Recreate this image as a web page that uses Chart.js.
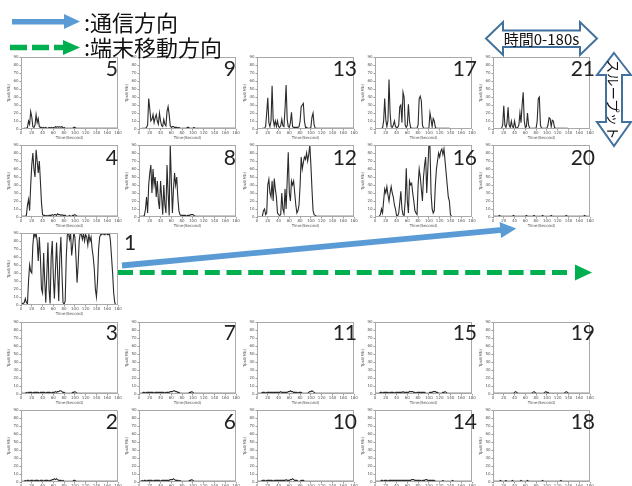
<!DOCTYPE html>
<html>
<head>
<meta charset="utf-8">
<script src="https://cdn.jsdelivr.net/npm/chart.js@4/dist/chart.umd.min.js"></script>
<style>
  html, body { margin: 0; padding: 0; background: #fff; }
  #stage { position: relative; width: 632px; height: 486px; overflow: hidden; background: #fff; }
  #stage canvas { position: absolute; }
  #deco { position: absolute; left: 0; top: 0; }
</style>
</head>
<body>
<div id="stage"></div>
<script>
// Throughput per terminal position (Mb), sampled every 2 s from 0 to 180 s.
const timeTicks = [0, 20, 40, 60, 80, 100, 120, 140, 160, 180];
const tputTicks = [0, 10, 20, 30, 40, 50, 60, 70, 80, 90];
const seconds = Array.from({ length: 91 }, (_, i) => i * 2);

const tput1 = [
  2, 2, 2, 3, 8, 3, 2, 30, 50, 42,
  40, 75, 90, 85, 90, 80, 55, 85, 60, 20,
  15, 65, 30, 3, 40, 78, 20, 2, 60, 80,
  35, 8, 45, 78, 40, 5, 60, 85, 40, 3,
  1, 5, 60, 88, 90, 82, 90, 62, 75, 90,
  85, 60, 28, 50, 80, 90, 88, 82, 90, 80,
  88, 85, 75, 88, 80, 85, 70, 60, 45, 20,
  10, 30, 70, 85, 88, 88, 90, 88, 88, 90,
  88, 88, 90, 80, 60, 40, 15, 3, 0, 0,
  0];
const tput2 = [
  1, 1, 1, 1, 2, 1, 2, 2, 1, 2,
  2, 2, 1, 2, 2, 2, 2, 1, 2, 2,
  2, 1, 2, 2, 2, 2, 1, 2, 2, 3,
  3, 4, 3, 4, 3, 2, 2, 2, 1, 2,
  1, 1, 1, 1, 1, 1, 1, 1, 1, 2,
  2, 1, 1, 1, 1, 1, 1, 1, 1, 1,
  1, 1, 1, 1, 1, 1, 1, 1, 1, 1,
  1, 1, 1, 1, 1, 1, 1, 1, 1, 1,
  1, 1, 1, 1, 1, 1, 1, 1, 1, 1,
  1];
const tput3 = [
  1, 1, 1, 1, 1, 2, 1, 2, 2, 2,
  2, 1, 2, 2, 2, 2, 2, 1, 2, 2,
  2, 2, 2, 1, 2, 2, 2, 2, 1, 2,
  2, 2, 3, 2, 3, 3, 4, 4, 3, 2,
  2, 1, 1, 1, 1, 1, 1, 1, 2, 2,
  3, 2, 1, 1, 1, 1, 1, 1, 1, 1,
  1, 1, 1, 1, 1, 1, 1, 1, 1, 1,
  1, 1, 1, 1, 1, 1, 1, 1, 1, 1,
  1, 1, 1, 1, 1, 1, 1, 1, 1, 1,
  1];
const tput4 = [
  1, 1, 1, 1, 1, 2, 15, 22, 8, 40,
  65, 80, 60, 50, 84, 70, 55, 70, 45, 18,
  3, 2, 2, 1, 2, 1, 2, 2, 2, 3,
  2, 3, 3, 2, 4, 3, 3, 2, 3, 2,
  2, 2, 1, 1, 1, 2, 1, 1, 2, 2,
  3, 2, 1, 1, 1, 1, 1, 1, 1, 1,
  1, 1, 1, 1, 1, 1, 1, 1, 1, 1,
  1, 1, 1, 1, 1, 1, 1, 1, 1, 1,
  1, 1, 1, 1, 1, 1, 1, 1, 1, 1,
  1];
const tput5 = [
  0, 0, 0, 1, 1, 1, 2, 10, 6, 22,
  15, 3, 2, 5, 18, 8, 13, 3, 2, 2,
  1, 2, 1, 2, 1, 1, 2, 1, 2, 1,
  2, 1, 3, 2, 3, 2, 3, 2, 3, 1,
  2, 1, 1, 1, 1, 1, 1, 1, 1, 2,
  2, 1, 1, 1, 1, 1, 1, 1, 1, 1,
  1, 1, 1, 1, 1, 1, 1, 1, 1, 1,
  1, 1, 1, 1, 1, 1, 1, 1, 1, 1,
  1, 1, 1, 1, 1, 1, 1, 1, 1, 1,
  1];
const tput6 = [
  1, 1, 1, 2, 1, 2, 2, 1, 2, 2,
  2, 2, 2, 1, 2, 2, 2, 2, 2, 2,
  1, 2, 2, 2, 2, 2, 2, 2, 2, 3,
  3, 3, 4, 3, 2, 2, 2, 1, 2, 1,
  1, 1, 1, 1, 1, 1, 1, 2, 2, 3,
  2, 1, 1, 1, 1, 1, 1, 1, 1, 1,
  1, 1, 1, 1, 1, 1, 1, 1, 1, 1,
  1, 1, 1, 1, 1, 1, 1, 1, 1, 1,
  1, 1, 1, 1, 1, 1, 1, 1, 1, 1,
  1];
const tput7 = [
  1, 1, 1, 1, 2, 2, 1, 2, 2, 2,
  2, 2, 2, 2, 1, 2, 2, 2, 2, 2,
  2, 2, 2, 2, 1, 2, 2, 2, 2, 3,
  3, 3, 4, 4, 3, 3, 2, 2, 1, 1,
  1, 1, 1, 1, 1, 1, 1, 2, 2, 3,
  2, 1, 1, 1, 1, 1, 1, 1, 1, 1,
  1, 1, 1, 1, 1, 1, 1, 1, 1, 1,
  1, 1, 1, 1, 1, 1, 1, 1, 1, 1,
  1, 1, 1, 1, 1, 1, 1, 1, 1, 1,
  1];
const tput8 = [
  0, 1, 1, 1, 1, 2, 10, 25, 5, 40,
  55, 65, 30, 60, 40, 50, 25, 45, 20, 10,
  45, 25, 3, 40, 15, 5, 65, 30, 2, 90,
  45, 5, 35, 55, 40, 50, 25, 8, 3, 2,
  2, 2, 2, 2, 1, 2, 2, 2, 3, 3,
  3, 2, 1, 1, 1, 1, 1, 1, 1, 1,
  1, 1, 1, 1, 1, 1, 1, 1, 1, 1,
  1, 1, 1, 1, 1, 1, 1, 1, 1, 1,
  1, 1, 1, 1, 1, 1, 1, 1, 1, 1,
  1];
const tput9 = [
  0, 0, 0, 1, 1, 1, 1, 2, 5, 38,
  25, 10, 12, 18, 8, 14, 18, 10, 6, 20,
  10, 4, 3, 12, 6, 4, 22, 28, 18, 4,
  2, 3, 3, 2, 2, 2, 1, 2, 1, 1,
  1, 1, 1, 1, 1, 2, 2, 1, 1, 1,
  1, 2, 1, 1, 1, 1, 1, 1, 1, 1,
  1, 1, 1, 1, 1, 1, 1, 1, 1, 1,
  1, 1, 1, 1, 1, 1, 1, 1, 1, 1,
  1, 1, 1, 1, 1, 1, 1, 1, 1, 1,
  1];
const tput10 = [
  1, 1, 1, 1, 1, 2, 2, 2, 1, 2,
  2, 2, 2, 2, 2, 1, 2, 2, 2, 2,
  2, 2, 2, 2, 2, 2, 2, 3, 2, 2,
  2, 3, 3, 4, 3, 2, 2, 2, 1, 1,
  1, 2, 2, 2, 1, 1, 1, 1, 1, 1,
  1, 1, 1, 1, 1, 1, 1, 1, 1, 1,
  1, 1, 1, 1, 1, 1, 1, 1, 1, 1,
  1, 1, 1, 1, 1, 1, 1, 1, 1, 1,
  1, 1, 1, 1, 1, 1, 1, 1, 1, 1,
  1];
const tput11 = [
  1, 1, 1, 1, 1, 2, 2, 2, 1, 2,
  2, 2, 2, 2, 2, 2, 2, 2, 2, 2,
  2, 2, 3, 2, 2, 2, 2, 2, 2, 3,
  3, 4, 3, 3, 2, 2, 2, 2, 1, 2,
  2, 2, 1, 1, 1, 1, 1, 1, 2, 3,
  3, 4, 3, 2, 1, 1, 1, 1, 1, 1,
  1, 1, 1, 1, 1, 1, 1, 1, 1, 1,
  1, 1, 1, 1, 1, 1, 1, 1, 1, 1,
  1, 1, 1, 1, 1, 1, 1, 1, 1, 1,
  1];
const tput12 = [
  0, 0, 0, 0, 0, 1, 8, 10, 3, 5,
  40, 47, 30, 25, 45, 20, 48, 35, 25, 5,
  3, 2, 3, 30, 10, 5, 35, 10, 45, 81,
  30, 20, 45, 40, 45, 30, 15, 5, 8, 15,
  40, 75, 60, 68, 75, 72, 80, 70, 78, 90,
  65, 35, 8, 3, 2, 1, 1, 1, 1, 1,
  1, 1, 1, 1, 1, 1, 1, 1, 1, 1,
  1, 1, 1, 1, 1, 1, 1, 1, 1, 1,
  1, 1, 1, 1, 1, 1, 1, 1, 1, 1,
  1];
const tput13 = [
  0, 0, 0, 0, 0, 1, 1, 1, 3, 20,
  39, 8, 3, 10, 54, 12, 4, 10, 3, 10,
  3, 2, 4, 12, 4, 3, 25, 55, 12, 3,
  2, 8, 21, 3, 2, 2, 2, 2, 2, 3,
  10, 28, 30, 32, 10, 2, 2, 1, 1, 1,
  2, 15, 20, 5, 1, 1, 1, 1, 1, 1,
  1, 1, 1, 1, 1, 1, 1, 1, 1, 1,
  1, 1, 1, 1, 1, 1, 1, 1, 1, 1,
  1, 1, 1, 1, 1, 1, 1, 1, 1, 1,
  1];
const tput14 = [
  1, 1, 1, 1, 1, 1, 2, 2, 1, 2,
  2, 2, 1, 2, 2, 2, 2, 2, 2, 2,
  2, 2, 2, 2, 2, 2, 2, 2, 2, 2,
  2, 2, 2, 2, 3, 3, 3, 2, 2, 2,
  2, 2, 2, 1, 2, 2, 2, 3, 3, 2,
  2, 2, 2, 2, 2, 2, 1, 1, 1, 1,
  1, 1, 1, 2, 1, 1, 1, 1, 1, 1,
  1, 1, 2, 1, 1, 1, 1, 1, 1, 1,
  1, 1, 1, 1, 1, 1, 1, 1, 1, 1,
  1];
const tput15 = [
  1, 1, 1, 1, 1, 2, 2, 1, 2, 2,
  2, 2, 2, 1, 2, 2, 2, 2, 1, 2,
  2, 2, 2, 2, 2, 2, 3, 2, 2, 2,
  2, 2, 3, 3, 3, 3, 2, 2, 1, 2,
  2, 2, 2, 2, 2, 2, 2, 1, 1, 1,
  1, 2, 2, 2, 3, 3, 3, 2, 2, 1,
  1, 1, 1, 2, 2, 3, 2, 1, 1, 1,
  1, 1, 1, 1, 1, 1, 1, 1, 1, 1,
  1, 1, 1, 1, 1, 1, 1, 1, 1, 1,
  1];
const tput16 = [
  0, 0, 0, 0, 1, 3, 10, 5, 20, 35,
  30, 38, 28, 20, 30, 38, 30, 25, 15, 10,
  2, 1, 5, 18, 32, 10, 3, 2, 20, 61,
  20, 5, 45, 40, 42, 30, 20, 8, 5, 3,
  40, 60, 50, 35, 20, 50, 65, 75, 30, 60,
  90, 88, 30, 10, 5, 8, 40, 60, 70, 80,
  75, 82, 85, 78, 85, 70, 55, 40, 25, 20,
  3, 1, 0, 0, 0, 0, 0, 0, 0, 0,
  0, 0, 0, 0, 0, 0, 0, 0, 0, 0,
  0];
const tput17 = [
  0, 0, 0, 0, 0, 0, 1, 1, 10, 38,
  12, 3, 10, 62, 20, 3, 2, 5, 10, 3,
  2, 2, 5, 28, 30, 8, 46, 40, 5, 2,
  5, 31, 10, 2, 1, 1, 1, 1, 1, 1,
  5, 38, 41, 35, 5, 1, 1, 1, 1, 1,
  1, 20, 12, 3, 13, 10, 2, 1, 1, 1,
  1, 1, 1, 1, 1, 1, 1, 1, 1, 1,
  0, 0, 0, 0, 0, 0, 0, 0, 0, 0,
  0, 0, 0, 0, 0, 0, 0, 0, 0, 0,
  0];
const tput18 = [
  1, 1, 1, 1, 1, 1, 1, 2, 1, 1,
  1, 1, 2, 1, 1, 1, 1, 1, 2, 1,
  1, 1, 1, 1, 1, 1, 2, 1, 1, 1,
  1, 1, 2, 1, 1, 1, 1, 1, 1, 1,
  1, 1, 1, 1, 1, 1, 2, 1, 1, 1,
  1, 1, 1, 1, 1, 1, 1, 1, 1, 1,
  1, 1, 1, 2, 1, 1, 1, 1, 1, 1,
  1, 1, 1, 1, 1, 1, 1, 1, 1, 1,
  1, 1, 1, 1, 1, 1, 1, 1, 1, 1,
  1];
const tput19 = [
  1, 1, 1, 1, 1, 1, 1, 1, 1, 1,
  1, 1, 1, 1, 1, 1, 1, 1, 1, 1,
  2, 3, 2, 1, 1, 1, 1, 1, 1, 1,
  1, 1, 1, 1, 1, 1, 1, 2, 3, 2,
  1, 1, 1, 1, 1, 1, 1, 1, 2, 3,
  2, 2, 1, 1, 1, 1, 1, 1, 1, 1,
  1, 1, 1, 1, 1, 1, 1, 2, 3, 2,
  1, 1, 1, 1, 1, 1, 1, 1, 1, 1,
  1, 1, 1, 1, 1, 1, 1, 1, 1, 1,
  1];
const tput20 = [
  1, 1, 1, 1, 1, 1, 2, 1, 1, 1,
  1, 1, 1, 1, 1, 1, 1, 1, 1, 2,
  1, 1, 1, 1, 1, 1, 1, 1, 1, 1,
  1, 2, 1, 1, 1, 1, 1, 1, 2, 1,
  1, 1, 1, 1, 1, 1, 2, 1, 1, 1,
  1, 1, 1, 1, 2, 1, 1, 1, 1, 1,
  1, 1, 1, 1, 1, 1, 1, 1, 2, 1,
  1, 1, 1, 1, 1, 1, 1, 1, 1, 1,
  1, 1, 1, 1, 1, 2, 1, 1, 1, 1,
  1];
const tput21 = [
  0, 0, 0, 0, 0, 0, 0, 0, 1, 5,
  29, 5, 2, 8, 27, 5, 2, 10, 3, 2,
  10, 2, 1, 2, 5, 20, 8, 30, 46, 10,
  2, 3, 20, 5, 1, 1, 1, 1, 1, 1,
  1, 10, 38, 40, 5, 1, 1, 1, 1, 1,
  1, 5, 14, 13, 3, 11, 10, 2, 1, 1,
  1, 1, 1, 1, 1, 1, 1, 1, 1, 1,
  0, 0, 0, 0, 0, 0, 0, 0, 0, 0,
  0, 0, 0, 0, 0, 0, 0, 0, 0, 0,
  0];

// Terminal number, grid column, grid row, series
const panels = [
  [5, 0, 0, tput5], [9, 1, 0, tput9], [13, 2, 0, tput13], [17, 3, 0, tput17], [21, 4, 0, tput21],
  [4, 0, 1, tput4], [8, 1, 1, tput8], [12, 2, 1, tput12], [16, 3, 1, tput16], [20, 4, 1, tput20],
  [1, 0, 2, tput1],
  [3, 0, 3, tput3], [7, 1, 3, tput7], [11, 2, 3, tput11], [15, 3, 3, tput15], [19, 4, 3, tput19],
  [2, 0, 4, tput2], [6, 1, 4, tput6], [10, 2, 4, tput10], [14, 3, 4, tput14], [18, 4, 4, tput18]
];

// Panel geometry (plot-area boxes in page pixels)
const colLeft = [21, 139, 257, 375, 493];
const rowTop = [57, 145, 233, 322, 410];
const PLOT_W = 97, PLOT_H = 72;
const AXIS_W = 19, AXIS_H = 12, PAD_TOP = 4, PAD_RIGHT = 5;

const stage = document.getElementById('stage');

// Closed frame around each plot area
const framePlugin = {
  id: 'frame',
  afterDraw(chart) {
    const { ctx, chartArea: a } = chart;
    ctx.save();
    ctx.strokeStyle = '#a9a9a9';
    ctx.lineWidth = 1;
    ctx.strokeRect(Math.round(a.left) + 0.5, Math.round(a.top) + 0.5,
                   Math.round(a.width) - 1, Math.round(a.height) - 1);
    ctx.restore();
  }
};

const tinyFont = { family: 'DejaVu Sans', size: 4 };

function drawPanel(col, row, series) {
  const canvas = document.createElement('canvas');
  const w = AXIS_W + PLOT_W + PAD_RIGHT;
  const h = PAD_TOP + PLOT_H + AXIS_H;
  canvas.width = w;
  canvas.height = h;
  canvas.style.width = w + 'px';
  canvas.style.height = h + 'px';
  canvas.style.left = (colLeft[col] - AXIS_W) + 'px';
  canvas.style.top = (rowTop[row] - PAD_TOP) + 'px';
  stage.appendChild(canvas);

  new Chart(canvas, {
    type: 'line',
    data: {
      datasets: [{
        data: series.map((v, i) => ({ x: seconds[i], y: v })),
        borderColor: '#2b2b2b',
        borderWidth: 1.1,
        pointRadius: 0,
        tension: 0,
        fill: false
      }]
    },
    options: {
      responsive: false,
      animation: false,
      devicePixelRatio: 1,
      events: [],
      layout: { padding: { top: PAD_TOP, right: PAD_RIGHT, left: 0, bottom: 0 } },
      plugins: { legend: { display: false }, tooltip: { enabled: false } },
      scales: {
        x: {
          type: 'linear', min: 0, max: 180,
          afterBuildTicks: s => { s.ticks = timeTicks.map(v => ({ value: v })); },
          afterFit: s => { s.height = AXIS_H; },
          ticks: { font: tinyFont, color: '#555', padding: 0.5, maxRotation: 0, autoSkip: false },
          grid: { drawOnChartArea: false, tickLength: 1.5, color: '#999' },
          border: { display: false },
          title: { display: true, text: 'Time(Second)', font: tinyFont, color: '#555', padding: { top: 0, bottom: 0.5 } }
        },
        y: {
          min: 0, max: 90,
          afterBuildTicks: s => { s.ticks = tputTicks.map(v => ({ value: v })); },
          afterFit: s => { s.width = AXIS_W; },
          ticks: { font: tinyFont, color: '#555', padding: 1, autoSkip: false },
          grid: { drawOnChartArea: false, tickLength: 1.5, color: '#999' },
          border: { display: false },
          title: { display: true, text: 'Tput(Mb)', font: tinyFont, color: '#555', padding: { top: 5, bottom: 0 } }
        }
      }
    },
    plugins: [framePlugin]
  });
}

panels.forEach(([, col, row, series]) => drawPanel(col, row, series));

// Overlay: terminal numbers, direction arrows, legend and axis hints
const numRight = [118, 236, 357, 477, 595];
const numBase = [76, 165, 250, 340, 429];
const SVG = 'http://www.w3.org/2000/svg';
const svg = document.createElementNS(SVG, 'svg');
svg.setAttribute('id', 'deco');
svg.setAttribute('width', 632);
svg.setAttribute('height', 486);
stage.appendChild(svg);

function add(tag, attrs, text) {
  const el = document.createElementNS(SVG, tag);
  for (const k in attrs) el.setAttribute(k, attrs[k]);
  if (text !== undefined) el.textContent = text;
  svg.appendChild(el);
  return el;
}

panels.forEach(([num, col, row]) => {
  if (row === 2) {
    add('text', { x: 124, y: numBase[row], 'font-family': 'Lato', 'font-size': 21, fill: '#222' }, String(num));
  } else {
    add('text', { x: numRight[col], y: numBase[row], 'text-anchor': 'end', 'font-family': 'Lato', 'font-size': 21, fill: '#222' }, String(num));
  }
});

const BLUE = '#5b9bd5', GREEN = '#00b050', OUTLINE = '#41719c';

// Legend: communication direction (solid) and terminal movement direction (dashed)
add('rect', { x: 12, y: 19, width: 53, height: 5.5, fill: BLUE });
add('polygon', { points: '64,14 80,21.5 64,29', fill: BLUE });
add('text', { x: 84, y: 30.5, 'font-family': 'Noto Sans CJK JP', 'font-size': 22, fill: '#111' }, ':通信方向');

add('line', { x1: 10, y1: 47.5, x2: 63, y2: 47.5, stroke: GREEN, 'stroke-width': 5.5, 'stroke-dasharray': '17 5' });
add('polygon', { points: '63,40 80,47.5 63,55', fill: GREEN });
add('text', { x: 84, y: 55.5, 'font-family': 'Noto Sans CJK JP', 'font-size': 22, fill: '#111' }, ':端末移動方向');

// Large arrows across the grid
const g = add('g', { transform: 'translate(122,265.5) rotate(-5.35)' });
const shaft = document.createElementNS(SVG, 'rect');
shaft.setAttribute('x', 0); shaft.setAttribute('y', -2.9);
shaft.setAttribute('width', 382); shaft.setAttribute('height', 5.8);
shaft.setAttribute('fill', BLUE);
g.appendChild(shaft);
const head = document.createElementNS(SVG, 'polygon');
head.setAttribute('points', '380,-8 396,0 380,8');
head.setAttribute('fill', BLUE);
g.appendChild(head);

add('line', { x1: 118, y1: 272.5, x2: 572, y2: 272.5, stroke: GREEN, 'stroke-width': 5, 'stroke-dasharray': '15 6.7' });
add('polygon', { points: '575,264.5 592,272.5 575,280.5', fill: GREEN });

// Horizontal double arrow: time span
add('polygon', {
  points: '486,38.5 503,22 503,30.5 580,30.5 580,22 597,38.5 580,55 580,47 503,47 503,55',
  fill: '#fff', stroke: OUTLINE, 'stroke-width': 2, 'stroke-linejoin': 'miter'
});
add('text', { x: 541.5, y: 44.5, 'text-anchor': 'middle', 'font-family': 'Noto Sans CJK JP', 'font-size': 15, fill: '#111' }, '時間0-180s');

// Vertical double arrow: throughput
add('polygon', {
  points: '614,53 631,75 622,75 622,122 631,122 614,146 597,122 606,122 606,75 597,75',
  fill: '#fff', stroke: OUTLINE, 'stroke-width': 2, 'stroke-linejoin': 'miter'
});
add('text', {
  x: 614, y: 99.5, 'text-anchor': 'middle', 'dominant-baseline': 'central',
  transform: 'rotate(90 614 99.5)', 'font-family': 'Noto Sans CJK JP', 'font-size': 13.5, fill: '#111'
}, 'スループット');
</script>
</body>
</html>
